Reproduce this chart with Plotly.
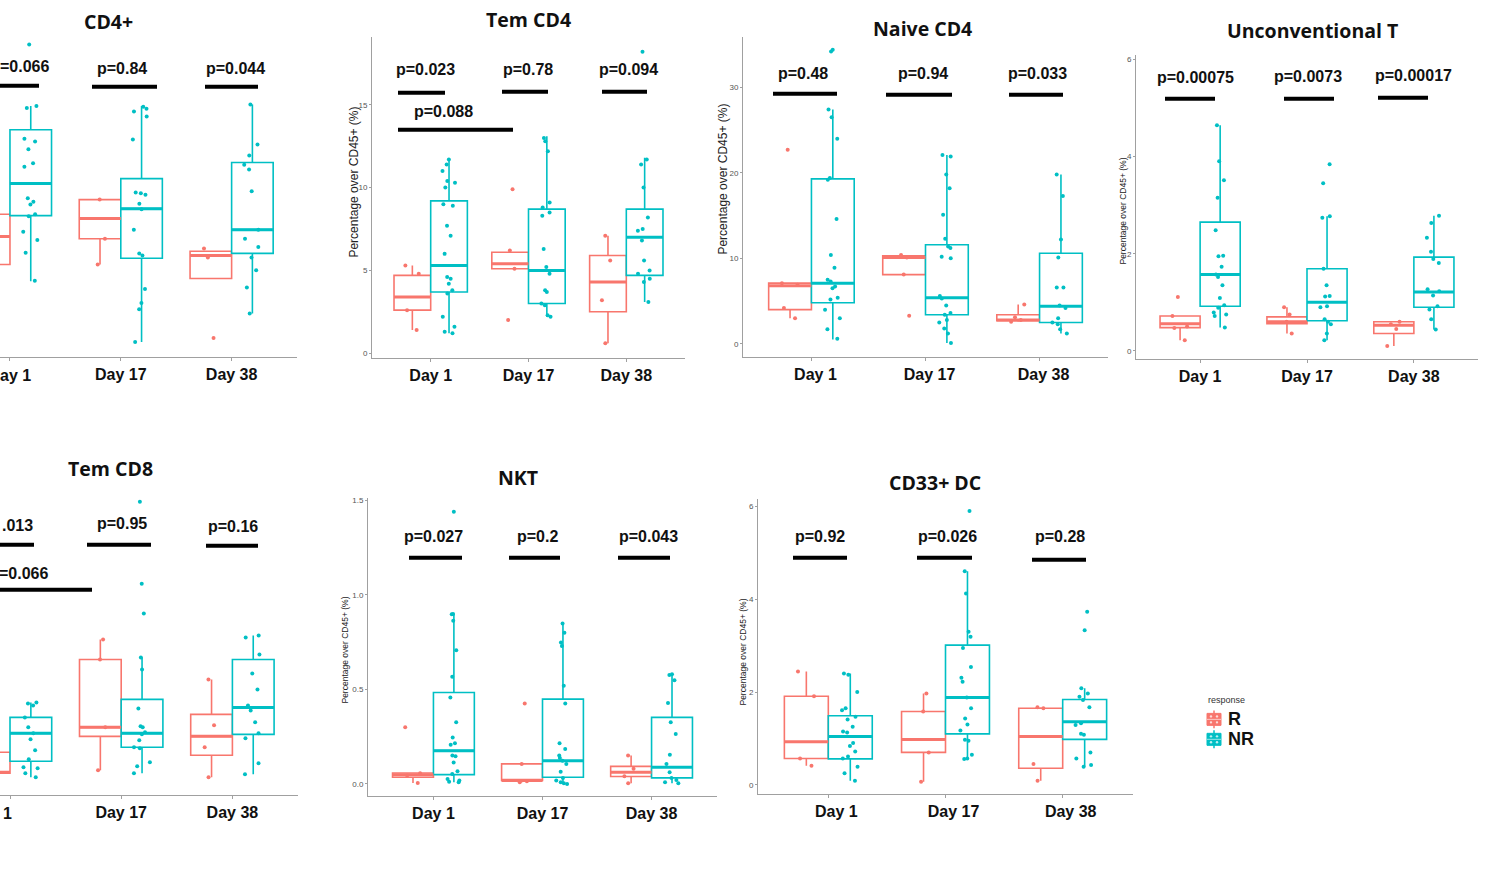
import plotly.graph_objects as go

W, H = 1487, 884
DAYS = ["Day 1", "Day 17", "Day 38"]
DAY_POS = [1, 2, 3]
R_COLOR = "#F8766D"
NR_COLOR = "#00BFC4"
BOX_W = 0.375

# box stats per day: [lower whisker, q1, median, q3, upper whisker]
# ---------------- CD4+ (y axis not visible in the crop) ----------------
cd4_R_stats = [[11.0, 15.4, 19.4, 22.6, 26.0], [15.4, 19.1, 22.0, 24.7, 24.7], [13.4, 13.4, 16.7, 17.3, 17.3]]
cd4_R_pts = [[26.0, 22.6, 17.0, 11.0], [24.7, 19.1, 15.4], [17.7, 16.4, 4.9]]
cd4_NR_stats = [[13.0, 22.4, 27.0, 34.7, 38.1], [4.3, 16.3, 23.4, 27.7, 38.1], [8.4, 17.0, 20.4, 30.0, 38.3]]
cd4_NR_pts = [[46.9, 38.1, 37.8, 33.4, 33.0, 31.9, 29.9, 29.4, 24.9, 24.4, 24.0, 22.6, 22.3, 20.1, 18.9, 17.1, 13.1],
              [38.0, 37.7, 37.3, 36.6, 33.3, 25.7, 25.6, 25.4, 24.1, 23.3, 20.4, 17.0, 16.7, 11.9, 9.9, 9.0, 4.3],
              [38.3, 32.6, 31.0, 29.7, 29.0, 25.9, 20.4, 19.1, 17.9, 16.4, 14.6, 12.1, 8.4]]

# ---------------- Tem CD4 ----------------
temcd4_R_stats = [[1.4, 2.6, 3.4, 4.7, 5.3], [5.1, 5.1, 5.4, 6.1, 6.1], [0.6, 2.5, 4.3, 5.9, 7.1]]
temcd4_R_pts = [[5.3, 4.8, 2.6, 1.4], [9.9, 6.2, 5.1, 2.0], [7.1, 5.6, 3.2, 0.6]]
temcd4_NR_stats = [[1.2, 3.7, 5.3, 9.2, 11.7], [2.2, 3.0, 5.0, 8.7, 13.1], [3.1, 4.7, 7.0, 8.7, 11.8]]
temcd4_NR_pts = [[11.7, 11.4, 11.0, 10.4, 10.3, 10.0, 9.0, 8.9, 7.7, 7.1, 6.0, 4.6, 4.5, 4.2, 3.8, 3.6, 2.2, 1.6, 1.3, 1.2],
                 [13.0, 12.8, 12.2, 9.1, 8.8, 8.5, 8.3, 6.3, 5.2, 4.8, 3.8, 3.7, 3.0, 2.9, 2.3, 2.2],
                 [18.2, 11.7, 11.4, 10.0, 8.2, 7.5, 7.4, 6.8, 5.6, 5.0, 4.8, 4.5, 4.3, 3.1]]

# ---------------- Naive CD4 ----------------
naive_R_stats = [[3.0, 4.0, 6.8, 7.1, 7.1], [8.1, 8.1, 10.1, 10.3, 10.3], [2.6, 2.7, 2.8, 3.4, 4.6]]
naive_R_pts = [[22.7, 7.1, 6.9, 4.2, 3.0], [10.4, 10.1, 8.1, 3.3], [4.6, 3.1, 2.8, 2.6]]
naive_NR_stats = [[0.5, 4.8, 7.1, 19.3, 27.4], [0.1, 3.4, 5.4, 11.6, 22.1], [1.2, 2.5, 4.4, 10.6, 19.8]]
naive_NR_pts = [[34.2, 34.4, 27.4, 26.5, 24.0, 19.4, 19.2, 14.6, 10.4, 8.9, 7.5, 7.3, 6.7, 6.5, 5.4, 5.2, 4.0, 3.0, 1.7, 0.6],
                [22.1, 21.9, 19.8, 18.2, 15.1, 12.3, 11.4, 11.2, 10.2, 10.0, 5.6, 5.3, 4.5, 3.6, 3.4, 2.8, 2.5, 1.8, 1.2, 0.1],
                [19.8, 17.3, 12.2, 10.1, 6.6, 6.6, 4.5, 4.2, 3.0, 2.5, 2.3, 1.7, 1.2]]

# ---------------- Unconventional T ----------------
unc_R_stats = [[0.22, 0.48, 0.56, 0.72, 0.72], [0.36, 0.56, 0.60, 0.70, 0.90], [0.10, 0.36, 0.53, 0.60, 0.60]]
unc_R_pts = [[1.11, 0.72, 0.50, 0.47, 0.22], [0.90, 0.75, 0.60, 0.36], [0.60, 0.55, 0.45, 0.10]]
unc_NR_stats = [[0.48, 0.92, 1.57, 2.65, 4.64], [0.22, 0.62, 1.00, 1.69, 2.77], [0.44, 0.90, 1.21, 1.93, 2.78]]
unc_NR_pts = [[4.64, 3.90, 3.51, 3.15, 2.48, 1.96, 1.95, 1.73, 1.57, 1.52, 1.35, 1.09, 0.94, 0.89, 0.79, 0.75, 0.72, 0.48],
              [3.84, 3.45, 2.77, 2.74, 1.69, 1.35, 1.13, 1.12, 0.92, 0.90, 0.65, 0.60, 0.55, 0.36, 0.22],
              [2.78, 2.63, 2.33, 2.04, 1.89, 1.81, 1.27, 1.23, 1.14, 0.92, 0.85, 0.65, 0.44]]

# ---------------- Tem CD8 (y axis not visible in the crop) ----------------
temcd8_R_stats = [[1.5, 2.7, 2.8, 4.8, 6.0], [3.0, 6.4, 7.3, 14.1, 16.1], [2.3, 4.5, 6.4, 8.6, 12.1]]
temcd8_R_pts = [[6.0, 4.8, 2.8, 1.5], [16.1, 14.1, 7.3, 3.0], [12.1, 7.5, 5.3, 2.3]]
temcd8_NR_stats = [[2.3, 3.9, 6.7, 8.3, 9.8], [2.7, 5.3, 6.7, 10.1, 14.3], [2.6, 6.6, 9.3, 14.1, 16.5]]
temcd8_NR_pts = [[9.8, 9.7, 9.5, 8.3, 7.3, 6.7, 6.1, 5.0, 4.1, 3.3, 3.2, 2.7, 2.3],
                 [29.9, 21.7, 18.7, 14.3, 13.1, 9.2, 7.4, 7.3, 6.8, 6.6, 6.0, 5.3, 5.2, 3.8, 3.4, 2.7],
                 [16.5, 16.3, 14.6, 12.7, 11.1, 9.5, 9.0, 7.8, 6.7, 6.2, 3.7, 2.6]]

# ---------------- NKT ----------------
nkt_R_stats = [[0.005, 0.035, 0.048, 0.058, 0.058], [0.009, 0.018, 0.018, 0.106, 0.106], [0.004, 0.039, 0.062, 0.093, 0.15]]
nkt_R_pts = [[0.30, 0.056, 0.044, 0.005], [0.426, 0.106, 0.014, 0.009], [0.15, 0.08, 0.04, 0.004]]
nkt_NR_stats = [[0.009, 0.049, 0.176, 0.484, 0.90], [0.0, 0.035, 0.123, 0.449, 0.849], [0.004, 0.032, 0.088, 0.352, 0.581]]
nkt_NR_pts = [[1.44, 0.90, 0.898, 0.863, 0.708, 0.567, 0.458, 0.326, 0.246, 0.215, 0.208, 0.15, 0.146, 0.114, 0.067, 0.053, 0.026, 0.018, 0.012, 0.009],
              [0.849, 0.80, 0.748, 0.73, 0.519, 0.426, 0.215, 0.185, 0.15, 0.137, 0.123, 0.106, 0.065, 0.032, 0.018, 0.009, 0.004, 0.0],
              [0.581, 0.577, 0.549, 0.428, 0.326, 0.264, 0.155, 0.106, 0.062, 0.032, 0.021, 0.009, 0.004]]

# ---------------- CD33+ DC ----------------
dc_R_stats = [[0.41, 0.57, 0.93, 1.91, 2.44], [0.07, 0.70, 0.98, 1.58, 1.97], [0.09, 0.36, 1.04, 1.65, 1.67]]
dc_R_pts = [[2.44, 1.91, 0.57, 0.41], [1.97, 1.58, 0.70, 0.07], [1.67, 1.65, 0.45, 0.09]]
dc_NR_stats = [[0.09, 0.56, 1.04, 1.49, 2.40], [0.56, 1.10, 1.88, 3.01, 4.6], [0.39, 0.98, 1.36, 1.84, 2.08]]
dc_NR_pts = [[2.40, 2.37, 2.0, 1.65, 1.61, 1.47, 1.41, 1.25, 1.15, 1.13, 0.9, 0.84, 0.72, 0.61, 0.57, 0.39, 0.25, 0.09],
             [5.9, 4.6, 4.12, 3.30, 3.19, 2.95, 2.54, 2.31, 2.22, 1.88, 1.65, 1.43, 1.30, 1.17, 0.97, 0.95, 0.65, 0.57, 0.56],
             [3.73, 3.33, 2.08, 1.97, 1.90, 1.83, 1.67, 1.33, 1.29, 1.10, 1.08, 0.70, 0.57, 0.43, 0.39]]

# panel layout (pixel boxes) -------------------------------------------
panels = [
    dict(title="CD4+", t=(108, 20), R=(cd4_R_stats, cd4_R_pts), NR=(cd4_NR_stats, cd4_NR_pts),
         px=(0, 297), py=(30, 356), xr=[0.91, 3.59], yr=[2.14, 48.7], yt=None, ytl=None,
         ticktext=["", "Day 17", "Day 38"]),
    dict(title="Tem CD4", t=(528, 18), R=(temcd4_R_stats, temcd4_R_pts), NR=(temcd4_NR_stats, temcd4_NR_pts),
         px=(372, 685), py=(35, 357), xr=[0.4, 3.6], yr=[-0.3, 19.1], yt=[0, 5, 10, 15], ytl=["0", "5", "10", "15"],
         ytitle=(354, 181, 12)),
    dict(title="Naive CD4", t=(922, 27), R=(naive_R_stats, naive_R_pts), NR=(naive_NR_stats, naive_NR_pts),
         px=(743, 1108), py=(35, 356), xr=[0.4, 3.6], yr=[-1.56, 35.9], yt=[0, 10, 20, 30], ytl=["0", "10", "20", "30"],
         ytitle=(723, 178, 12), shift=4),
    dict(title="Unconventional T", t=(1312, 29), R=(unc_R_stats, unc_R_pts), NR=(unc_NR_stats, unc_NR_pts),
         px=(1136, 1478), py=(53, 358), xr=[0.4, 3.6], yr=[-0.17, 6.09], yt=[0, 2, 4, 6], ytl=["0", "2", "4", "6"],
         ytitle=(1123, 210, 8.5)),
    dict(title="Tem CD8", t=(110, 468), R=(temcd8_R_stats, temcd8_R_pts), NR=(temcd8_NR_stats, temcd8_NR_pts),
         px=(0, 298), py=(470, 795), xr=[0.91, 3.59], yr=[0.5, 33.0], yt=None, ytl=None,
         ticktext=["", "Day 17", "Day 38"]),
    dict(title="NKT", t=(518, 477), R=(nkt_R_stats, nkt_R_pts), NR=(nkt_NR_stats, nkt_NR_pts),
         px=(368, 717), py=(497, 796), xr=[0.4, 3.6], yr=[-0.065, 1.514], yt=[0, 0.5, 1.0, 1.5],
         ytl=["0.0", "0.5", "1.0", "1.5"], ytitle=(345, 650, 8.5)),
    dict(title="CD33+ DC", t=(935, 482), R=(dc_R_stats, dc_R_pts), NR=(dc_NR_stats, dc_NR_pts),
         px=(758, 1133), py=(498, 794), xr=[0.4, 3.6], yr=[-0.2, 6.16], yt=[0, 2, 4, 6], ytl=["0", "2", "4", "6"],
         ytitle=(743, 652, 8.5), shift=8),
]

# p-value labels (visible part of the text, as cropped in the source): (text, x px, y px, anchor)
pvals = [
    ("=0.066", 51, 65, "right"), ("p=0.84", 122, 67, "center"), ("p=0.044", 235, 67, "center"),
    ("p=0.023", 425, 68, "center"), ("p=0.78", 528, 68, "center"), ("p=0.094", 628, 68, "center"),
    ("p=0.088", 443, 110, "center"),
    ("p=0.48", 803, 72, "center"), ("p=0.94", 923, 72, "center"), ("p=0.033", 1037, 72, "center"),
    ("p=0.00075", 1195, 76, "center"), ("p=0.0073", 1308, 75, "center"), ("p=0.00017", 1413, 74, "center"),
    (".013", 35, 525, "right"), ("=0.066", 50, 573, "right"), ("p=0.95", 122, 523, "center"),
    ("p=0.16", 233, 526, "center"),
    ("p=0.027", 434, 536, "center"), ("p=0.2", 537, 536, "center"), ("p=0.043", 648, 536, "center"),
    ("p=0.92", 820, 536, "center"), ("p=0.026", 948, 536, "center"), ("p=0.28", 1060, 536, "center"),
]
bars = [
    (-20, 39, 84), (92, 157, 85), (205, 258, 85),
    (398, 445, 91), (502, 548, 90), (602, 647, 90), (398, 513, 128),
    (773, 837, 92), (886, 952, 93), (1009, 1063, 93),
    (1165, 1215, 97), (1284, 1334, 97), (1378, 1428, 96),
    (-20, 34, 544), (-20, 92, 589), (87, 151, 544), (206, 258, 545),
    (409, 462, 557), (509, 560, 557), (618, 670, 557),
    (793, 847, 557), (917, 972, 557), (1032, 1086, 559),
]
# cropped "Day 1" tick labels at the left edge: (visible text, x px, y px, anchor)
edge_labels = [("ay 1", 0, 374, "left"), ("1", 3, 813, "left")]

fig = go.Figure()
layout = dict(width=W, height=H, margin=dict(l=0, r=0, t=0, b=0), paper_bgcolor="white",
              plot_bgcolor="rgba(0,0,0,0)", showlegend=False)
annotations = []
shapes = []
AX_COLOR = "#a0a0a0"
BOLD = dict(family="Liberation Sans, Arial", color="#111111", weight="bold")

for i, p in enumerate(panels):
    n = "" if i == 0 else str(i + 1)
    xa, ya = "x" + n, "y" + n
    for grp, off, col in (("R", -BOX_W / 2, R_COLOR), ("NR", BOX_W / 2, NR_COLOR)):
        stats, pts = p[grp]
        pos = [d + off for d in DAY_POS]
        fig.add_trace(go.Box(
            x=pos, lowerfence=[s[0] for s in stats], q1=[s[1] for s in stats], median=[s[2] for s in stats],
            q3=[s[3] for s in stats], upperfence=[s[4] for s in stats], width=BOX_W, whiskerwidth=0,
            fillcolor="white", line=dict(color=col, width=1.6), boxpoints=False, name=grp,
            xaxis=xa, yaxis=ya, hoverinfo="skip"))
        mx, my = [], []
        for d, s in zip(pos, stats):
            mx += [d - BOX_W / 2, d + BOX_W / 2, None]
            my += [s[2], s[2], None]
        fig.add_trace(go.Scatter(x=mx, y=my, mode="lines", line=dict(color=col, width=3),
                                 xaxis=xa, yaxis=ya, hoverinfo="skip"))
        px_, py_ = [], []
        for d, vals in zip(pos, pts):
            px_ += [d] * len(vals)
            py_ += vals
        fig.add_trace(go.Box(x=px_, y=py_, width=BOX_W, boxpoints="all", jitter=0.45, pointpos=0,
                             fillcolor="rgba(0,0,0,0)", line=dict(color="rgba(0,0,0,0)", width=0),
                             whiskerwidth=0, marker=dict(color=col, size=4),
                             xaxis=xa, yaxis=ya, hoverinfo="skip"))
    xd = [max(0, p["px"][0] / W), p["px"][1] / W]
    yd = [1 - p["py"][1] / H, 1 - p["py"][0] / H]
    layout["xaxis" + n] = dict(domain=xd, range=p["xr"], anchor=ya, tickmode="array", tickvals=DAY_POS,
                               ticktext=p.get("ticktext", DAYS), showline=True, linecolor=AX_COLOR, linewidth=1,
                               ticks="outside", ticklen=3, tickcolor=AX_COLOR, showgrid=False, zeroline=False,
                               ticklabelshift=p.get("shift", 0), tickfont=dict(BOLD, size=16))
    yax = dict(domain=yd, range=p["yr"], anchor=xa, showgrid=False, zeroline=False)
    if p["yt"] is None:
        yax.update(visible=False)
    else:
        yax.update(tickmode="array", tickvals=p["yt"], ticktext=p["ytl"], showline=True, linecolor=AX_COLOR,
                   linewidth=1, ticks="outside", ticklen=2, tickcolor=AX_COLOR,
                   tickfont=dict(family="Liberation Sans, Arial", size=8, color="#555555"))
        tx, ty, ts = p["ytitle"]
        annotations.append(dict(text="Percentage over CD45+ (%)", x=tx / W, y=1 - ty / H, xref="paper",
                                yref="paper", showarrow=False, textangle=-90, xanchor="center",
                                yanchor="middle", font=dict(family="Liberation Sans, Arial", size=ts,
                                                            color="#222222")))
    layout["yaxis" + n] = yax
    annotations.append(dict(text=p["title"], x=p["t"][0] / W, y=1 - p["t"][1] / H, xref="paper", yref="paper",
                            showarrow=False, xanchor="center", yanchor="middle",
                            font=dict(family="Open Sans", size=19.5, color="#111111", weight="bold")))

for txt, x, y, anc in pvals:
    annotations.append(dict(text=txt, x=x / W, y=1 - y / H, xref="paper", yref="paper", showarrow=False,
                            xanchor=anc, yanchor="middle", font=dict(BOLD, size=16)))
for txt, x, y, anc in edge_labels:
    annotations.append(dict(text=txt, x=x / W, y=1 - y / H, xref="paper", yref="paper", showarrow=False,
                            xanchor=anc, yanchor="middle", xshift=-2, font=dict(BOLD, size=16)))
for x0, x1, y in bars:
    shapes.append(dict(type="line", xref="paper", yref="paper", x0=x0 / W, x1=x1 / W, y0=1 - y / H,
                       y1=1 - y / H, line=dict(color="black", width=4)))

# manual legend (ggplot-style keys) -------------------------------------
legend_items = [("R", R_COLOR, 719), ("NR", NR_COLOR, 739)]
annotations.append(dict(text="response", x=1206 / W, y=1 - 700 / H, xref="paper", yref="paper",
                        showarrow=False, xanchor="left", yanchor="middle",
                        font=dict(family="Liberation Sans, Arial", size=9, color="#333333")))
for label, col, cy in legend_items:
    cx = 1214
    shapes.append(dict(type="line", xref="paper", yref="paper", x0=cx / W, x1=cx / W,
                       y0=1 - (cy - 9) / H, y1=1 - (cy + 9) / H, line=dict(color=col, width=1.5)))
    shapes.append(dict(type="rect", xref="paper", yref="paper", x0=(cx - 7) / W, x1=(cx + 7) / W,
                       y0=1 - (cy - 6) / H, y1=1 - (cy + 6) / H, fillcolor=col, line=dict(color=col, width=1)))
    for dx in (-3, 3):
        for dy in (-3, 3):
            shapes.append(dict(type="circle", xref="paper", yref="paper", x0=(cx + dx - 1.2) / W,
                               x1=(cx + dx + 1.2) / W, y0=1 - (cy + dy + 1.2) / H, y1=1 - (cy + dy - 1.2) / H,
                               fillcolor="rgba(255,255,255,0.75)", line=dict(width=0)))
    shapes.append(dict(type="line", xref="paper", yref="paper", x0=(cx - 7) / W, x1=(cx + 7) / W,
                       y0=1 - cy / H, y1=1 - cy / H, line=dict(color="rgba(255,255,255,0.6)", width=1)))
    annotations.append(dict(text=label, x=1226 / W, y=1 - cy / H, xref="paper", yref="paper", showarrow=False,
                            xanchor="left", yanchor="middle", font=dict(BOLD, size=18)))

layout["annotations"] = annotations
layout["shapes"] = shapes
fig.update_layout(**layout)
fig.write_html("out.html", config={"displayModeBar": False},
               post_script="document.body.style.margin='0';")
